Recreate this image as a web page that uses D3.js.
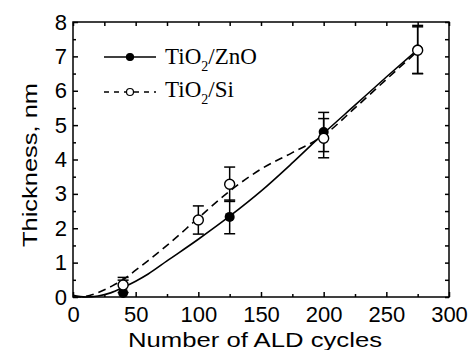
<!DOCTYPE html>
<html>
<head>
<meta charset="utf-8">
<script src="https://cdn.jsdelivr.net/npm/d3@7"></script>
<style>
  body { margin: 0; background: #fff; }
  text { fill: #000; }
</style>
</head>
<body>
<div id="container"></div>
<script>
// measured points
const cycles = [40, 125, 200, 275];
const znoThickness = [0.12, 2.33, 4.8, 7.2];
const znoError = [0.37, 0.49, 0.57, 0.7];

const siCycles = [40, 100, 125, 200, 275];
const siThickness = [0.35, 2.24, 3.28, 4.62, 7.18];
const siError = [0.22, 0.41, 0.5, 0.57, 0.68];

// fitted curves
const fitCycles = [0, 10, 20, 30, 40, 50, 60, 75, 100, 125, 150, 175, 200, 225, 250, 275];
const znoFit = [0.05, 0.0, 0.03, 0.12, 0.28, 0.46, 0.67, 1.05, 1.68, 2.35, 3.08, 3.9, 4.76, 5.58, 6.4, 7.2];
const siFit = [0.0, 0.02, 0.13, 0.3, 0.5, 0.78, 1.06, 1.5, 2.3, 3.08, 3.72, 4.2, 4.7, 5.5, 6.33, 7.15];

const xTicks = [0, 50, 100, 150, 200, 250, 300];
const yTicks = [0, 1, 2, 3, 4, 5, 6, 7, 8];

const width = 472;
const height = 350;
const margin = { top: 22, right: 23, bottom: 53, left: 73 };

const svg = d3.select('#container')
  .append('svg')
  .attr('width', width)
  .attr('height', height);

const xScale = d3.scaleLinear().domain([0, 300]).range([margin.left, width - margin.right]);
const yScale = d3.scaleLinear().domain([0, 8]).range([height - margin.bottom, margin.top]);

const sans = 'Liberation Sans, Arial, sans-serif';
const serif = 'Liberation Serif, Times New Roman, serif';

// axes: ticks point inward, mirrored on top and right
const minorX = d3.range(25, 300, 50);
const minorY = d3.range(0.5, 8, 1);

function styleAxis(g) {
  g.select('.domain').remove();
  g.selectAll('line').attr('stroke', '#000').attr('stroke-width', 1.5);
  g.selectAll('text').attr('font-family', sans).attr('font-size', 22);
}

const bottom = height - margin.bottom;
svg.append('g')
  .attr('transform', `translate(0,${bottom})`)
  .call(d3.axisBottom(xScale).tickValues(xTicks).tickSizeInner(-5).tickSizeOuter(0).tickPadding(9).tickFormat(d3.format('d')))
  .call(styleAxis);
svg.append('g')
  .attr('transform', `translate(0,${bottom})`)
  .call(d3.axisBottom(xScale).tickValues(minorX).tickSizeInner(-3).tickSizeOuter(0).tickFormat(''))
  .call(styleAxis);

svg.append('g')
  .attr('transform', `translate(${margin.left},0)`)
  .call(d3.axisLeft(yScale).tickValues(yTicks).tickSizeInner(-5).tickSizeOuter(0).tickPadding(6).tickFormat(d3.format('d')))
  .call(styleAxis);
svg.append('g')
  .attr('transform', `translate(${margin.left},0)`)
  .call(d3.axisLeft(yScale).tickValues(minorY).tickSizeInner(-3).tickSizeOuter(0).tickFormat(''))
  .call(styleAxis);

// mirror ticks
svg.append('g')
  .attr('transform', `translate(0,${margin.top})`)
  .call(d3.axisTop(xScale).tickValues(d3.range(0, 301, 25)).tickSizeInner(-4).tickSizeOuter(0).tickFormat(''))
  .call(styleAxis);
svg.append('g')
  .attr('transform', `translate(${width - margin.right},0)`)
  .call(d3.axisRight(yScale).tickValues(d3.range(0, 8.01, 0.5)).tickSizeInner(-4).tickSizeOuter(0).tickFormat(''))
  .call(styleAxis);

// frame
svg.append('rect')
  .attr('x', margin.left)
  .attr('y', margin.top)
  .attr('width', width - margin.left - margin.right)
  .attr('height', height - margin.top - margin.bottom)
  .attr('fill', 'none')
  .attr('stroke', '#000')
  .attr('stroke-width', 1.5);

// axis titles (the original face is wider than Arial)
svg.append('text')
  .attr('x', 255)
  .attr('y', 347)
  .attr('text-anchor', 'middle')
  .attr('font-family', sans)
  .attr('font-size', 21)
  .attr('textLength', 254)
  .attr('lengthAdjust', 'spacingAndGlyphs')
  .text('Number of ALD cycles');

svg.append('text')
  .attr('transform', `translate(37,${165}) rotate(-90)`)
  .attr('text-anchor', 'middle')
  .attr('font-family', sans)
  .attr('font-size', 21)
  .attr('textLength', 164)
  .attr('lengthAdjust', 'spacingAndGlyphs')
  .text('Thickness, nm');

// curves
const curveLine = d3.line()
  .x((d, i) => xScale(fitCycles[i]))
  .y((d) => yScale(d))
  .curve(d3.curveMonotoneX);

svg.append('path')
  .datum(znoFit)
  .attr('fill', 'none')
  .attr('stroke', '#000')
  .attr('stroke-width', 1.6)
  .attr('d', curveLine);

svg.append('path')
  .datum(siFit)
  .attr('fill', 'none')
  .attr('stroke', '#000')
  .attr('stroke-width', 1.6)
  .attr('stroke-dasharray', '8,5')
  .attr('d', curveLine);

// error bars
function errorBars(xs, ys, es) {
  const g = svg.append('g').attr('stroke', '#000').attr('stroke-width', 1.5);
  xs.forEach((x, i) => {
    const cx = xScale(x);
    const top = yScale(ys[i] + es[i]);
    const bot = yScale(Math.max(0, ys[i] - es[i]));
    g.append('line').attr('x1', cx).attr('x2', cx).attr('y1', top).attr('y2', bot);
    g.append('line').attr('x1', cx - 5.5).attr('x2', cx + 5.5).attr('y1', top).attr('y2', top);
    if (ys[i] - es[i] > 0) {
      g.append('line').attr('x1', cx - 5.5).attr('x2', cx + 5.5).attr('y1', bot).attr('y2', bot);
    }
  });
}
errorBars(cycles, znoThickness, znoError);
errorBars(siCycles, siThickness, siError);

// markers
svg.append('g')
  .selectAll('circle')
  .data(znoThickness)
  .enter()
  .append('circle')
  .attr('cx', (d, i) => xScale(cycles[i]))
  .attr('cy', (d) => yScale(d))
  .attr('r', 5)
  .attr('fill', '#000');

svg.append('g')
  .selectAll('circle')
  .data(siThickness)
  .enter()
  .append('circle')
  .attr('cx', (d, i) => xScale(siCycles[i]))
  .attr('cy', (d) => yScale(d))
  .attr('r', 5)
  .attr('fill', '#fff')
  .attr('stroke', '#000')
  .attr('stroke-width', 1.4);

// legend
const legend = svg.append('g');
const legendRows = [
  { y: 57, dash: null, fill: '#000', label: 'ZnO', base: 64 },
  { y: 92, dash: '5,5', fill: '#fff', label: 'Si', base: 97 },
];
legendRows.forEach((row) => {
  legend.append('line')
    .attr('x1', 104).attr('x2', 156)
    .attr('y1', row.y).attr('y2', row.y)
    .attr('stroke', '#000')
    .attr('stroke-width', 1.6)
    .attr('stroke-dasharray', row.dash);
  legend.append('circle')
    .attr('cx', 130).attr('cy', row.y)
    .attr('r', 3.5)
    .attr('fill', row.fill)
    .attr('stroke', '#000')
    .attr('stroke-width', 1.2);
  const t = legend.append('text')
    .attr('x', 165)
    .attr('y', row.base)
    .attr('font-family', serif)
    .attr('font-size', 23);
  t.append('tspan').text('TiO');
  t.append('tspan').attr('font-size', 14).attr('dy', 7).text('2');
  t.append('tspan').attr('dy', -7).text('/' + row.label);
});
</script>
</body>
</html>
